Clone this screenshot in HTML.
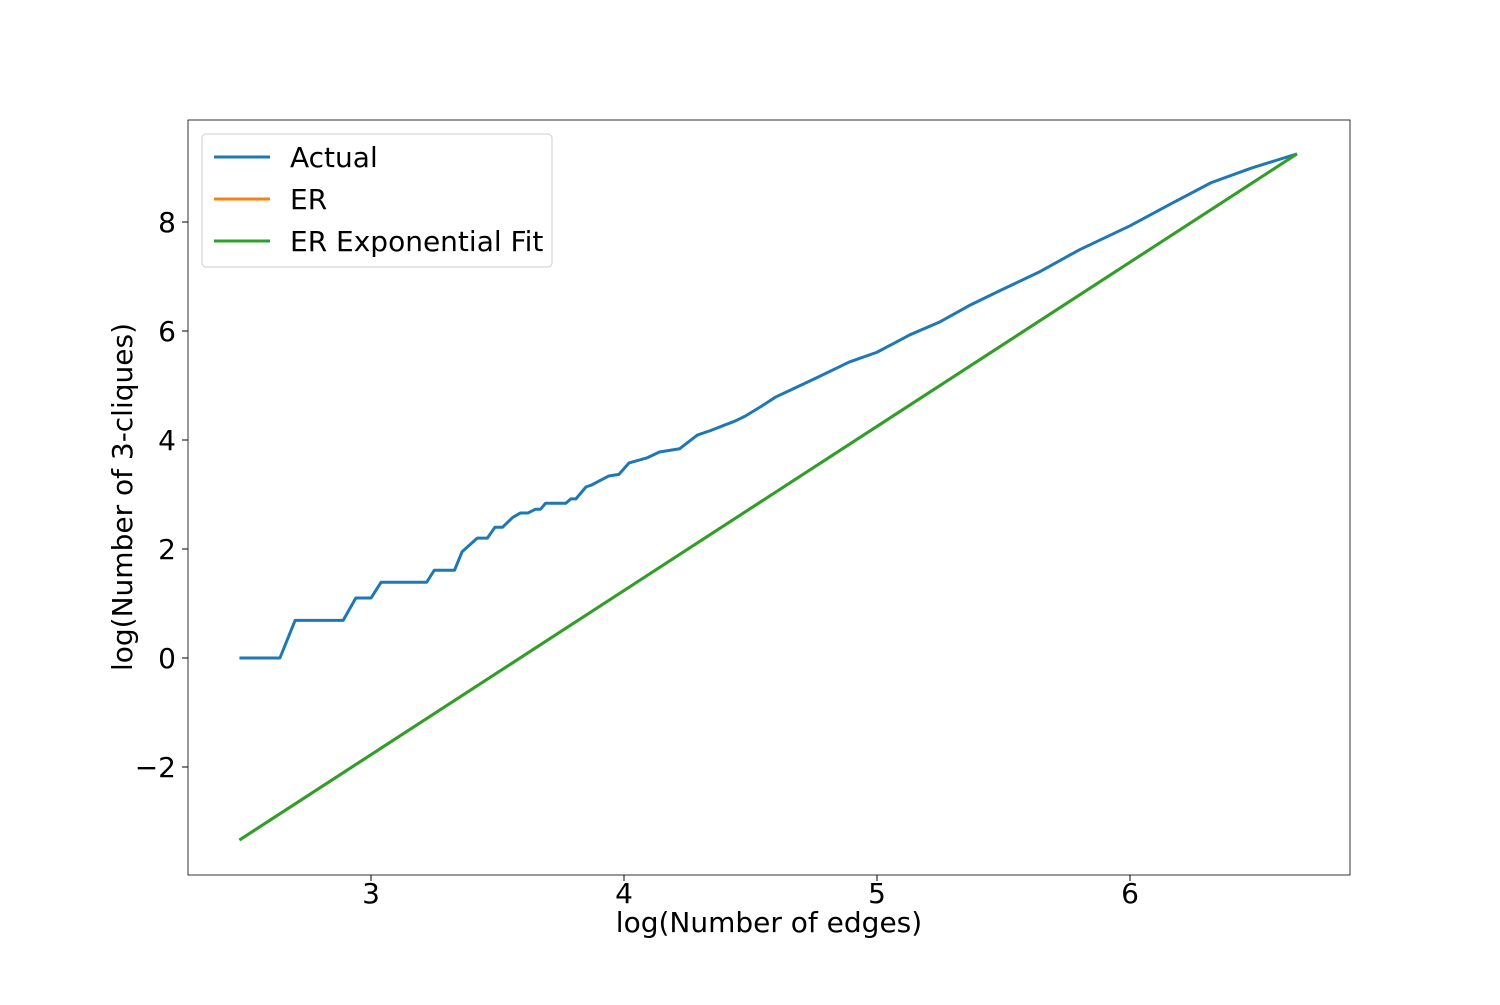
<!DOCTYPE html>
<html><head><meta charset="utf-8"><style>
body{margin:0;background:#fff;}
svg text{font-family:"DejaVu Sans","Liberation Sans",sans-serif;fill:#000;}
</style></head><body>
<svg width="1500" height="1000" xmlns="http://www.w3.org/2000/svg">
<rect width="1500" height="1000" fill="#fff"/>
<g id="ticks"></g>
<g id="series"></g>
<rect x="188" y="120" width="1162" height="755" fill="none" stroke="#000" stroke-width="0.8"/>
<text x="769" y="932" font-size="28" text-anchor="middle">log(Number of edges)</text>
<text transform="translate(132,497) rotate(-90)" font-size="28" text-anchor="middle">log(Number of 3-cliques)</text>
<g>
<rect x="202" y="134" width="350" height="133" rx="4" fill="#fff" stroke="#ccc" stroke-width="1"/>
<line x1="214" y1="157" x2="270" y2="157" stroke="#1f77b4" stroke-width="3"/>
<text x="290" y="167" font-size="28">Actual</text>
<line x1="214" y1="199" x2="270" y2="199" stroke="#ff7f0e" stroke-width="3"/>
<text x="290" y="209" font-size="28">ER</text>
<line x1="214" y1="241" x2="270" y2="241" stroke="#2ca02c" stroke-width="3"/>
<text x="290" y="251" font-size="28">ER Exponential Fit</text>
</g>
</svg>
<script>
const xTicks=[3,4,5,6];
const yTicks=[-2,0,2,4,6,8];
const actualX=[2.48,2.64,2.70,2.89,2.94,3.0,3.04,3.22,3.25,3.33,3.36,3.42,3.46,3.49,3.52,3.56,3.59,3.62,3.65,3.67,3.69,3.77,3.79,3.81,3.85,3.87,3.94,3.98,4.02,4.09,4.14,4.22,4.29,4.34,4.44,4.48,4.54,4.60,4.66,4.77,4.89,5.0,5.13,5.25,5.37,5.49,5.64,5.80,6.0,6.16,6.32,6.48,6.66];
const actualY=[0,0,0.69,0.69,1.10,1.10,1.39,1.39,1.61,1.61,1.95,2.20,2.20,2.40,2.40,2.58,2.66,2.66,2.73,2.73,2.84,2.84,2.92,2.92,3.14,3.17,3.34,3.37,3.58,3.67,3.78,3.84,4.09,4.17,4.35,4.44,4.61,4.79,4.92,5.16,5.43,5.61,5.93,6.17,6.48,6.75,7.08,7.49,7.93,8.33,8.72,8.99,9.25];
const erX=[2.48,6.66];
const erY=[-3.34,9.25];
const fitX=[2.48,6.66];
const fitY=[-3.34,9.25];
const NS="http://www.w3.org/2000/svg";
function sx(v){return 371+(v-3)*253;}
function sy(v){return 658-v*54.5;}
const tg=document.getElementById('ticks');
xTicks.forEach(t=>{
 const l=document.createElementNS(NS,'line');
 l.setAttribute('x1',sx(t));l.setAttribute('x2',sx(t));l.setAttribute('y1',875);l.setAttribute('y2',881);l.setAttribute('stroke','#000');
 
 
 tg.appendChild(l);
 const tx=document.createElementNS(NS,'text');
 tx.setAttribute('x',sx(t));tx.setAttribute('y',903);tx.setAttribute('font-size','28');tx.setAttribute('text-anchor','middle');tx.textContent=t;
 
 
 tg.appendChild(tx);
});
yTicks.forEach(t=>{
 const l=document.createElementNS(NS,'line');
 l.setAttribute('x1',182);l.setAttribute('x2',188);l.setAttribute('y1',sy(t));l.setAttribute('y2',sy(t));l.setAttribute('stroke','#000');
 
 
 tg.appendChild(l);
 const tx=document.createElementNS(NS,'text');
 tx.setAttribute('x',176);tx.setAttribute('y',sy(t)+10);tx.setAttribute('font-size','28');tx.setAttribute('text-anchor','end');tx.textContent=t<0?'\u2212'+(-t):t;
 
 
 tg.appendChild(tx);
});
const sg=document.getElementById('series');
function line(xs,ys,color,name){
 const p=document.createElementNS(NS,'polyline');
 p.setAttribute('points',xs.map((x,i)=>sx(x)+','+sy(ys[i])).join(' '));
 p.setAttribute('fill','none');p.setAttribute('stroke',color);p.setAttribute('stroke-width','3');p.setAttribute('stroke-linejoin','round');
 
 
 sg.appendChild(p);
}
line(actualX,actualY,'#1f77b4','actual-line');
line(erX,erY,'#ff7f0e','er-line');
line(fitX,fitY,'#2ca02c','er-fit-line');
</script>
</body></html>
